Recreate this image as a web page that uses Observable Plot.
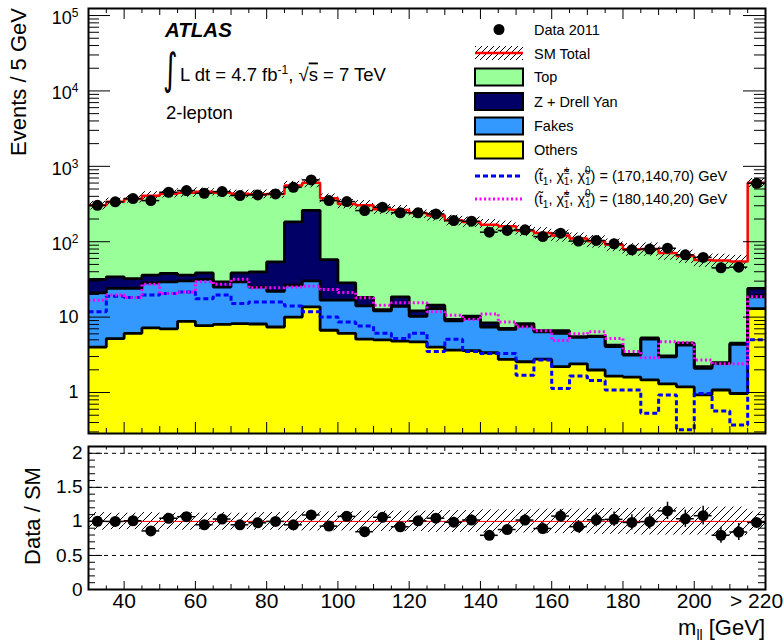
<!DOCTYPE html>
<html><head><meta charset="utf-8">
<script src="https://cdn.jsdelivr.net/npm/d3@7"></script>
<script src="https://cdn.jsdelivr.net/npm/@observablehq/plot@0.6"></script>
<style>
body{margin:0;background:#fff;}
#wrap{position:relative;width:784px;height:643px;background:#fff;}
#wrap svg{display:block;}
</style></head><body><div id="wrap"></div>
<script>
// ---- data ----
const binLow = [30,35,40,45,50,55,60,65,70,75,80,85,90,95,100,105,110,115,120,125,130,135,140,145,150,155,160,165,170,175,180,185,190,195,200,205,210,215];
const binWidth = 5;
const dataCounts = [304,338,373,351,453,477,439,462,410,418,431,527,661,351,341,259,287,242,242,234,191,187,134,141,144,117,130,102,104,94,78,80,82,67,62,45,46,596];
const topBkg = [272,304,337,372,395,410,423,417,393,387,377,372,343,319,289,287,258,244,228,209,184,173,160,153,133,124,114,105,96,87,76,75,68,60,55,54,50,581];
const zdyBkg = [10.6,10.2,8.5,7.5,8.5,5.7,7.0,4.4,9.2,14.8,32,156.5,230.7,41.2,11.7,4.1,0.5,4.7,1.9,1.4,0.4,0.7,1.0,0.2,0.6,0.2,0.5,0.1,0.1,0.2,0.06,0.2,0.07,0.25,0.11,0.05,0.15,5.4];
const fakesBkg = [17,18.8,17.9,21.3,22.4,21.5,23.9,17,21.2,16.9,14.6,16.5,16.6,10.1,10.7,9.0,7.1,9.1,5.5,9.0,5.24,6.0,4.03,4.15,5.04,3.63,3.9,3.0,3.51,2.4,1.54,3.63,1.68,3.06,1.16,1.35,3.38,5.6];
const othersBkg = [4.0,5.2,6.1,7.2,7.0,8.8,7.7,8.0,8.2,8.1,7.4,10,13.7,6.7,6.1,5.1,5.0,4.8,4.7,4.0,3.66,3.6,3.37,2.75,2.56,2.77,2.2,2.4,1.99,1.65,1.6,1.47,1.3,1.19,0.93,1.08,0.97,13.0];
const sigA = [11.8,18.9,18.2,19.6,20.6,21.6,17.5,19.6,15.2,15.9,15.9,14,11.8,10,8.6,7.6,6.1,5.2,6.1,3.5,5.1,3.5,3.3,3.3,1.7,2.7,1.13,1.65,1.44,1.08,1.08,0.53,0.93,0.32,0.97,0.57,0.37,5.0];
const sigB = [16.8,19.6,18.2,27.3,20.6,21.6,29.4,27.3,31.9,24.5,24.5,25,25.7,23.2,21.2,18,14.4,15.5,15.5,11.8,10.6,9.3,11,8.6,7.4,6.6,4.9,6.0,6.4,5.2,3.5,2.9,4.7,4.6,2.7,2.4,2.4,18.6];
const sysRel = [0.13,0.12,0.12,0.13,0.12,0.13,0.12,0.13,0.12,0.13,0.13,0.14,0.14,0.14,0.14,0.15,0.15,0.15,0.15,0.16,0.16,0.16,0.17,0.17,0.17,0.18,0.18,0.18,0.19,0.19,0.19,0.2,0.2,0.2,0.2,0.21,0.21,0.14];
const xTickValues = [40,60,80,100,120,140,160,180,200];
const overflowTick = [220];
const overflowLabel = "> 220";
const yTicksTop = [1,10,100,1000,10000,100000];
const yTicksRatio = [0,0.5,1,1.5,2];
const ratioGrid = [0.5,1.5,2];

// ---- colours ----
const cTop = "#99ff99", cZ = "#000066", cFakes = "#3399ff", cOthers = "#ffff00";
const font = '"Liberation Sans", Arial, Helvetica, sans-serif';

const bins = binLow.map((x0, i) => {
  const others = othersBkg[i], c2 = others + fakesBkg[i], c3 = c2 + zdyBkg[i], total = c3 + topBkg[i];
  return {x1: x0, x2: x0 + binWidth, xc: x0 + binWidth / 2, others, c2, c3, total,
    data: dataCounts[i], sigA: sigA[i], sigB: sigB[i], u: sysRel[i],
    ratio: dataCounts[i] / total, rErr: Math.sqrt(dataCounts[i]) / total};
});
const last = bins[bins.length - 1];
const stepPts = key => [...bins.map(b => ({x: b.x1, y: b[key]})), {x: last.x2, y: last[key]}];

const W = 784;
const mL = 88, mR = 19;
const innerW = W - mL - mR;
const xDomain = [30, 220];

function hatch(id, s) {
  return () => {
    const defs = d3.create("svg:defs");
    const p = defs.append("pattern").attr("id", id).attr("patternUnits", "userSpaceOnUse")
      .attr("width", s).attr("height", s);
    p.append("path").attr("d", `M0,${s} L${s},0 M-1,1 L1,-1 M${s-1},${s+1} L${s+1},${s-1}`)
      .attr("stroke", "black").attr("stroke-width", 1);
    return defs.node();
  };
}
function yTicks(values, len) {
  return [
    Plot.tickY(values, {y: d => d, insetRight: innerW - len, stroke: "black", strokeWidth: 1}),
    Plot.tickY(values, {y: d => d, insetLeft: innerW - len, stroke: "black", strokeWidth: 1})
  ];
}
function xTicks(values, len, innerH) {
  return [
    Plot.tickX(values, {x: d => d, insetTop: innerH - len, stroke: "black", strokeWidth: 1}),
    Plot.tickX(values, {x: d => d, insetBottom: innerH - len, stroke: "black", strokeWidth: 1})
  ];
}
const xMajor = d3.range(40, 220, 20), xMed = d3.range(50, 220, 10).filter(v => v % 20 !== 0), xMinor = d3.range(35, 220, 10);
const stepLine = (key, opts) => Plot.line(stepPts(key), {x: "x", y: "y", curve: "step-after", strokeLinecap: "butt", strokeLinejoin: "miter", ...opts});
const stepArea = (key, y1, fill) => Plot.areaY(stepPts(key), {x: "x", y1, y2: "y", curve: "step-after", fill});

// ---------- top panel ----------
const hTop = 440, mTT = 8, mTB = 7, innerHT = hTop - mTT - mTB;
const yMin = 0.286, yMax = 1.24e5;
const yMinorTop = [];
for (let e = -1; e <= 4; e++) for (let k = 2; k <= 9; k++) { const v = k * 10 ** e; if (v >= yMin && v <= yMax) yMinorTop.push(v); }

const topPlot = Plot.plot({
  width: W, height: hTop, marginLeft: mL, marginRight: mR, marginTop: mTT, marginBottom: mTB,
  style: {fontFamily: font, color: "black", background: "white", overflow: "visible"},
  x: {domain: xDomain, axis: null, label: null},
  y: {type: "log", domain: [yMin, yMax], label: null},
  marks: [
    hatch("hatchTop", 6),
    stepArea("total", yMin, cTop),
    stepArea("c3", yMin, cZ),
    stepArea("c2", yMin, cFakes),
    stepArea("others", yMin, cOthers),
    stepLine("c3", {stroke: "black", strokeWidth: 2.8}),
    stepLine("c2", {stroke: "black", strokeWidth: 2.8}),
    stepLine("others", {stroke: "black", strokeWidth: 2.8}),
    Plot.rect(bins, {x1: "x1", x2: "x2", y1: d => d.total * (1 - d.u), y2: d => d.total * (1 + d.u), fill: "url(#hatchTop)"}),
    stepLine("total", {stroke: "#ff0000", strokeWidth: 2.5}),
    stepLine("sigA", {stroke: "#0000ff", strokeWidth: 3, strokeDasharray: "5,3"}),
    stepLine("sigB", {stroke: "#ff00ff", strokeWidth: 3, strokeDasharray: "2,2.5"}),
    Plot.ruleY(bins, {y: "data", x1: "x1", x2: "x2", stroke: "black", strokeWidth: 1.5}),
    Plot.ruleX(bins, {x: "xc", y1: d => d.data - Math.sqrt(d.data), y2: d => d.data + Math.sqrt(d.data), stroke: "black", strokeWidth: 1.5}),
    Plot.dot(bins, {x: "xc", y: "data", r: 5.5, fill: "black", stroke: "none"}),
    ...yTicks(yTicksTop, 22),
    ...yTicks(yMinorTop, 11),
    ...xTicks(xMajor, 11, innerHT),
    ...xTicks(xMed, 7, innerHT),
    ...xTicks(xMinor, 5, innerHT),
    Plot.frame({stroke: "black", strokeWidth: 2}),
    Plot.axisY({ticks: yTicksTop, tickSize: 0, tickPadding: 10, fontSize: 18, label: null,
      tickFormat: d => d === 1 ? "1" : d === 10 ? "10" : "10^" + Math.round(Math.log10(d))})
  ]
});

// ---------- ratio panel ----------
const hR = 203, mRT = 6, mRB = 54, innerHR = hR - mRT - mRB;
const yMinorR = d3.range(0.1, 2.1, 0.1).filter(v => Math.abs(v * 2 - Math.round(v * 2)) > 1e-6);
const ratioPlot = Plot.plot({
  width: W, height: hR, marginLeft: mL, marginRight: mR, marginTop: mRT, marginBottom: mRB,
  style: {fontFamily: font, color: "black", background: "white", overflow: "visible"},
  x: {domain: xDomain, label: null},
  y: {domain: [0, 2.1], label: null},
  marks: [
    hatch("hatchR", 8),
    Plot.ruleY(ratioGrid, {y: d => d, stroke: "black", strokeWidth: 1, strokeDasharray: "4,4"}),
    Plot.rect(bins, {x1: "x1", x2: "x2", y1: d => 1 - d.u, y2: d => 1 + d.u, fill: "url(#hatchR)"}),
    Plot.ruleY([1], {y: d => d, stroke: "#ff0000", strokeWidth: 1}),
    Plot.ruleY(bins, {y: "ratio", x1: "x1", x2: "x2", stroke: "black", strokeWidth: 1.5}),
    Plot.ruleX(bins, {x: "xc", y1: d => d.ratio - d.rErr, y2: d => d.ratio + d.rErr, stroke: "black", strokeWidth: 1.5}),
    Plot.dot(bins, {x: "xc", y: "ratio", r: 5.5, fill: "black", stroke: "none"}),
    ...yTicks(yTicksRatio, 14),
    ...yTicks(yMinorR, 7),
    ...xTicks(xMajor, 8, innerHR),
    ...xTicks(xMed, 5, innerHR),
    ...xTicks(xMinor, 3.5, innerHR),
    Plot.frame({stroke: "black", strokeWidth: 2}),
    Plot.axisY({ticks: yTicksRatio, tickSize: 0, tickPadding: 6, fontSize: 19, label: null, tickFormat: d => String(d)}),
    Plot.axisX({ticks: xTickValues, tickSize: 0, tickPadding: 4, fontSize: 21, label: null, tickFormat: d => String(d)}),
    Plot.axisX(overflowTick, {tickSize: 0, tickPadding: 4, fontSize: 21, dx: -9, label: null, tickFormat: () => overflowLabel})
  ]
});

const wrap = document.getElementById("wrap");
wrap.appendChild(topPlot);
wrap.appendChild(ratioPlot);

// superscripts for 10^n tick labels
d3.select(topPlot).selectAll("text").each(function () {
  const t = this.textContent;
  if (t.includes("^")) {
    const [base, exp] = t.split("^");
    const s = d3.select(this); s.text(null);
    s.append("tspan").attr("dy", "0.15em").text(base);
    s.append("tspan").attr("dy", "-0.6em").attr("font-size", "12px").text(exp);
  }
});

// ---- annotations, titles, legend (SVG text) ----
const gT = d3.select(topPlot).append("g").attr("font-family", font).attr("fill", "black").attr("text-anchor", "start");
gT.append("text").attr("transform", "translate(25.5,8) rotate(-90)").attr("text-anchor", "end")
  .attr("font-size", 22).text("Events / 5 GeV");
gT.append("text").attr("x", 165).attr("y", 37).attr("font-size", 20.5).attr("font-weight", "bold")
  .attr("font-style", "italic").text("ATLAS");
gT.append("text").attr("transform", "translate(163,84) scale(1,1.55)").attr("font-size", 28)
  .attr("font-family", '"DejaVu Sans", sans-serif').text("\u222B");
const lumi = gT.append("text").attr("x", 180).attr("y", 80.5).attr("font-size", 18.5);
lumi.append("tspan").text("L dt = 4.7 fb");
lumi.append("tspan").attr("dy", -7).attr("font-size", 12).text("-1");
lumi.append("tspan").attr("dy", 7).text(", \u221A");
lumi.append("tspan").attr("text-decoration", "overline").text("s");
lumi.append("tspan").text(" = 7 TeV");
gT.append("text").attr("x", 166).attr("y", 119).attr("font-size", 18.5).text("2-lepton");

const lg = gT.append("g").attr("font-size", 14.5);
const sx = 475, sw = 48, tx = 534;
lg.append("circle").attr("cx", sx + sw / 2).attr("cy", 29.5).attr("r", 5.5).attr("fill", "black");
lg.append("text").attr("x", tx).attr("y", 34.5).text("Data 2011");
lg.append("rect").attr("x", sx).attr("y", 46).attr("width", sw).attr("height", 14).attr("fill", "url(#hatchTop)");
lg.append("line").attr("x1", sx).attr("x2", sx + sw).attr("y1", 53).attr("y2", 53).attr("stroke", "#ff0000").attr("stroke-width", 2.5);
lg.append("text").attr("x", tx).attr("y", 58.5).text("SM Total");
const boxes = [["Top", cTop, 77], ["Z + Drell Yan", cZ, 101.5], ["Fakes", cFakes, 126], ["Others", cOthers, 150]];
for (const [name, col, cy] of boxes) {
  lg.append("rect").attr("x", sx).attr("y", cy - 8.5).attr("width", sw).attr("height", 17)
    .attr("fill", col).attr("stroke", "black").attr("stroke-width", 2);
  lg.append("text").attr("x", tx).attr("y", cy + 5.3).text(name);
}
function sigLabel(cy, values, color, dash) {
  lg.append("line").attr("x1", sx).attr("x2", sx + sw).attr("y1", cy).attr("y2", cy)
    .attr("stroke", color).attr("stroke-width", 3).attr("stroke-dasharray", dash);
  const t = lg.append("text").attr("x", tx).attr("y", cy + 5);
  t.append("tspan").text("(t\u0303");
  t.append("tspan").attr("dy", 4).attr("font-size", 10).text("1");
  t.append("tspan").attr("dy", -4).text(", \u03C7\u0303");
  t.append("tspan").attr("dy", -7).attr("font-size", 10).text("\u00B1");
  t.append("tspan").attr("dy", 11).attr("dx", -5.8).attr("font-size", 10).text("1");
  t.append("tspan").attr("dy", -4).text(", \u03C7\u0303");
  t.append("tspan").attr("dy", -7).attr("font-size", 10).text("0");
  t.append("tspan").attr("dy", 11).attr("dx", -5.6).attr("font-size", 10).text("1");
  t.append("tspan").attr("dy", -4).text(") = " + values + " GeV");
}
sigLabel(176, "(170,140,70)", "#0000ff", "5,3");
sigLabel(199, "(180,140,20)", "#ff00ff", "2,2.5");

const gR = d3.select(ratioPlot).append("g").attr("font-family", font).attr("fill", "black").attr("text-anchor", "start");
gR.append("text").attr("transform", "translate(40,76) rotate(-90)").attr("text-anchor", "middle")
  .attr("font-size", 22).text("Data / SM");
const xt = gR.append("text").attr("x", 765).attr("y", 195).attr("text-anchor", "end").attr("font-size", 22);
xt.append("tspan").text("m");
xt.append("tspan").attr("dy", 5).attr("font-size", 14).text("ll");
xt.append("tspan").attr("dy", -5).text(" [GeV]");
</script></body></html>
